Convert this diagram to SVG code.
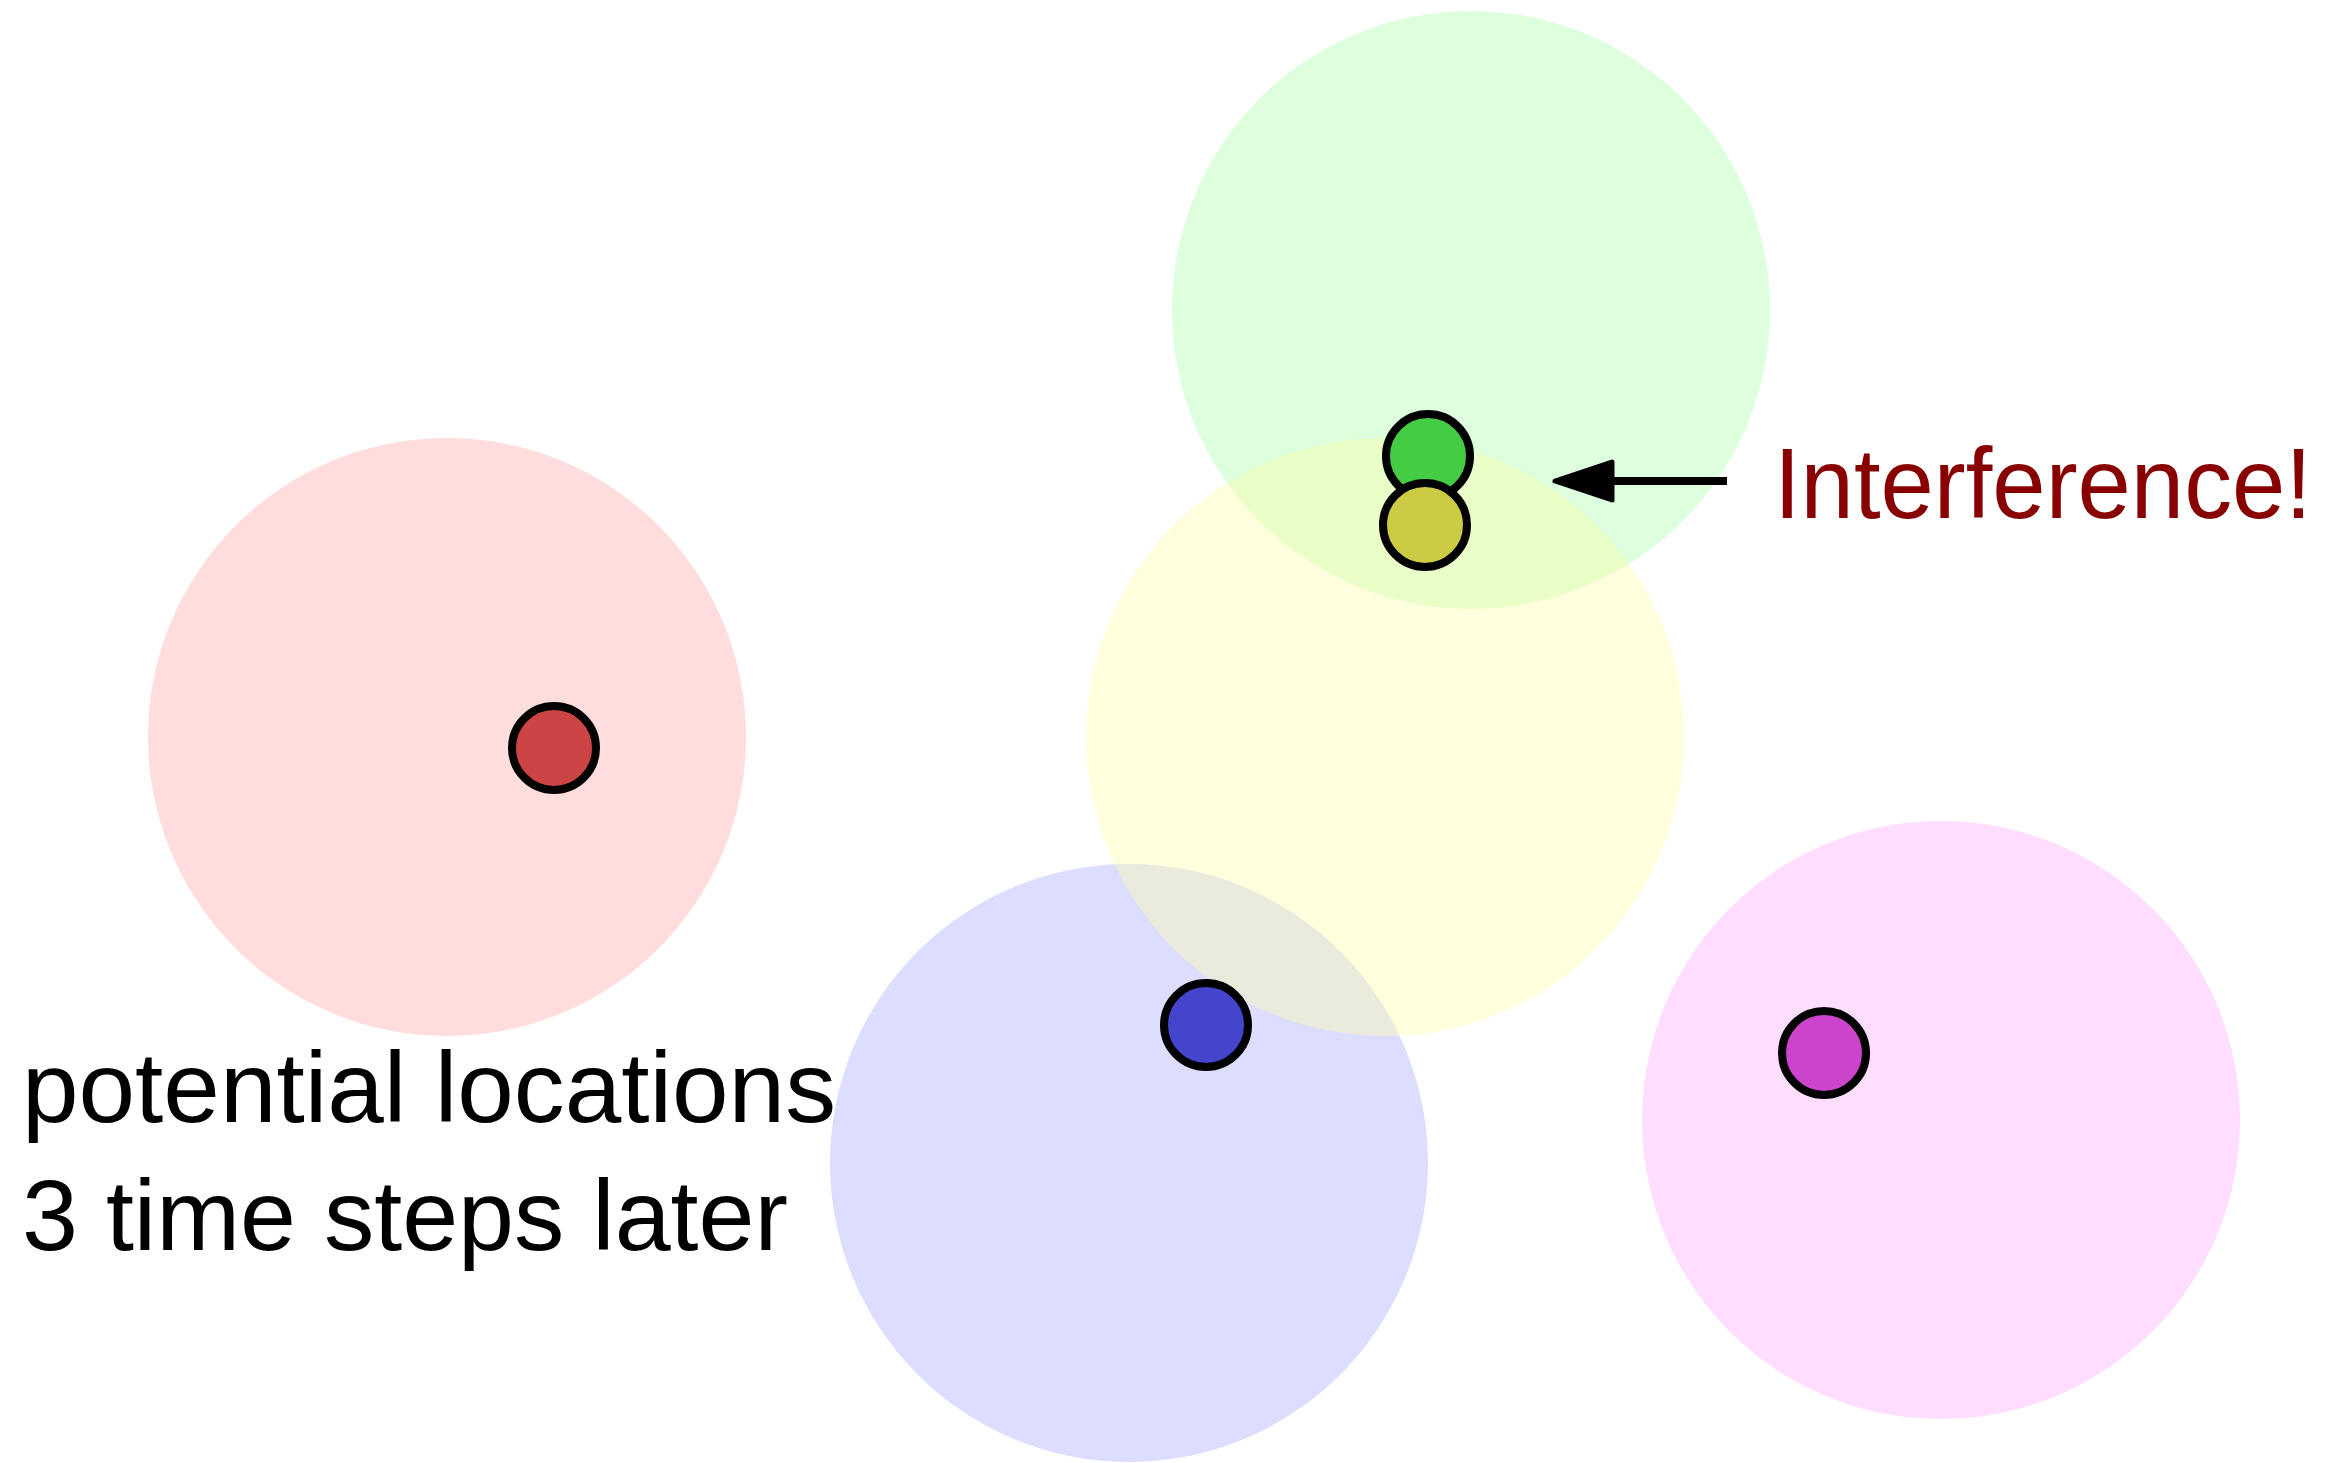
<svg xmlns="http://www.w3.org/2000/svg" width="2347" height="1463" viewBox="0 0 2347 1463">
  <style>
    .zone { stroke: none; opacity: 0.4; }
    .agent { stroke: #000; stroke-width: 8; }
    .label { font-family: "Liberation Sans", Arial, sans-serif; font-size: 100px; }
    .conn { stroke: #000; stroke-width: 8; fill: none; }
  </style>
  <defs>
    <marker id="head" markerUnits="userSpaceOnUse" orient="auto" refX="0" refY="0"
            markerWidth="80" markerHeight="60" viewBox="-5 -30 80 60" overflow="visible">
      <path d="M2,-19 L59,0 L2,19 Z" fill="#000" stroke="#000" stroke-width="5" stroke-linejoin="round"/>
    </marker>
  </defs>
  <rect width="2347" height="1463" fill="#fff"/>

  <!-- reachable regions -->
  <g id="regions">
    <circle id="region-green" class="zone" cx="1471" cy="310" r="299" fill="#aaffaa"/>
    <circle id="region-blue" class="zone" cx="1129" cy="1163" r="299" fill="#aaaaff"/>
    <circle id="region-yellow" class="zone" cx="1385" cy="737" r="299" fill="#ffffaa"/>
    <circle id="region-red" class="zone" cx="447" cy="737" r="299" fill="#ffaaaa"/>
    <circle id="region-magenta" class="zone" cx="1941" cy="1120" r="299" fill="#ffaaff"/>
  </g>

  <!-- agents -->
  <g id="agent-red"><circle class="agent" cx="554" cy="748" r="42" fill="#cc4444"/></g>
  <g id="agent-green"><circle class="agent" cx="1428" cy="456" r="42" fill="#44cc44"/></g>
  <g id="agent-yellow"><circle class="agent" cx="1425" cy="525" r="42" fill="#cccc44"/></g>
  <g id="agent-blue"><circle class="agent" cx="1206" cy="1025" r="42" fill="#4444cc"/></g>
  <g id="agent-magenta"><circle class="agent" cx="1824" cy="1053" r="42" fill="#cc44cc"/></g>

  <!-- connectors -->
  <g id="connectors">
    <path class="conn" d="M1727 481 H1614" marker-end="url(#head)"/>
  </g>

  <!-- labels -->
  <g id="label-interference">
    <text class="label" x="1774" y="518" fill="#880000" textLength="538" lengthAdjust="spacingAndGlyphs">Interference!</text>
  </g>
  <g id="label-caption">
    <text class="label" x="22" y="1122" fill="#000" textLength="814" lengthAdjust="spacingAndGlyphs">potential locations</text>
    <text class="label" x="22" y="1250" fill="#000" textLength="766" lengthAdjust="spacingAndGlyphs">3 time steps later</text>
  </g>
</svg>
